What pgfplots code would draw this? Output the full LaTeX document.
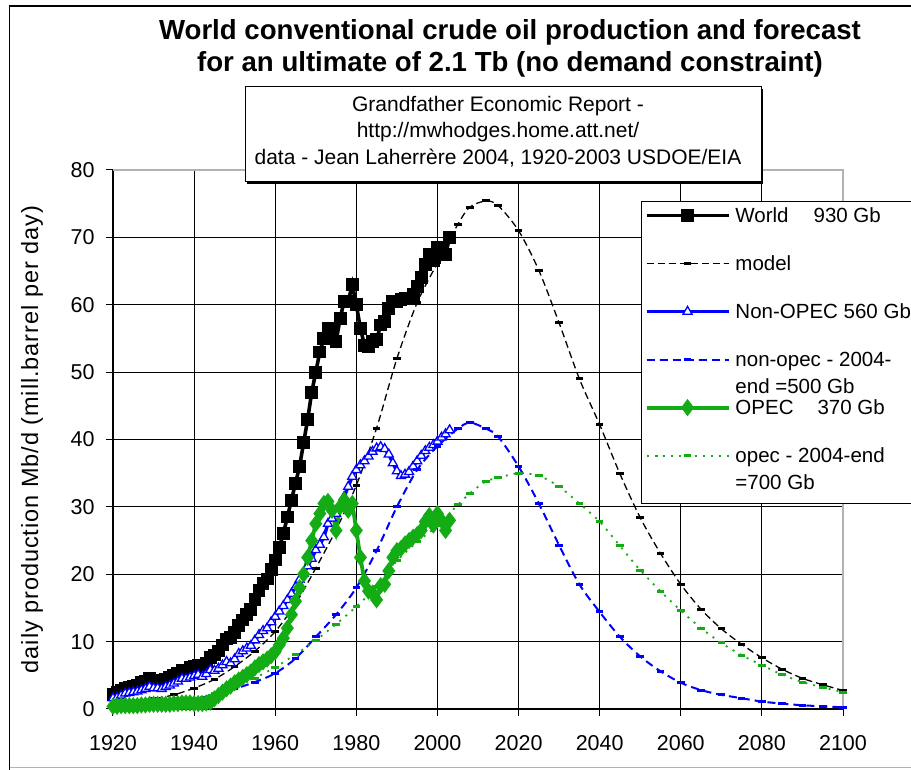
\documentclass[border=0pt]{standalone}
\usepackage{pgfplots}
\usepackage{pgfplotstable}
\pgfplotsset{compat=1.18}
\usepackage{fontspec}
\setmainfont{Liberation Sans}

\definecolor{oilblue}{RGB}{0,0,255}
\definecolor{oilgreen}{RGB}{20,172,20}

% historical production 1920-2003, Mb/d
\pgfplotstableread{
year world nonopec opec
1920 2.2 1.6 0.4
1921 2.4 1.7 0.4
1922 2.7 2.0 0.5
1923 3.1 2.3 0.5
1924 3.2 2.4 0.5
1925 3.4 2.5 0.5
1926 3.5 2.6 0.5
1927 3.9 2.8 0.6
1928 4.1 3.0 0.6
1929 4.5 3.3 0.7
1930 4.3 3.1 0.7
1931 4.3 3.1 0.7
1932 4.1 3.0 0.7
1933 4.4 3.3 0.7
1934 4.7 3.5 0.7
1935 5.0 3.8 0.8
1936 5.3 4.1 0.8
1937 5.8 4.5 0.9
1938 5.8 4.5 0.9
1939 6.1 4.7 0.9
1940 6.3 4.9 0.8
1941 6.5 5.1 0.8
1942 6.3 4.8 0.8
1943 6.7 5.2 0.9
1944 7.6 5.8 1.0
1945 8.0 5.7 1.5
1946 8.6 6.0 2.0
1947 9.5 6.5 2.5
1948 10.4 7.0 3.0
1949 10.6 6.8 3.4
1950 11.4 7.4 3.9
1951 12.4 8.2 4.3
1952 13.2 8.6 4.7
1953 14.0 9.0 5.1
1954 14.8 9.4 5.5
1955 16.3 10.2 6.1
1956 17.6 11.0 6.6
1957 18.6 11.6 7.0
1958 19.3 12.0 7.4
1959 20.7 12.9 7.9
1960 22.1 13.7 8.5
1961 24.0 14.5 9.5
1962 26.0 15.3 10.5
1963 28.5 16.2 12.0
1964 31.0 17.1 14.0
1965 33.5 18.1 16.0
1966 36.0 19.2 18.0
1967 39.5 20.1 20.0
1968 43.0 21.2 22.5
1969 47.0 22.3 25.0
1970 50.0 23.6 27.5
1971 53.0 24.4 29.0
1972 55.0 25.5 30.5
1973 56.5 27.5 30.8
1974 56.0 28.3 29.5
1975 54.5 29.0 26.5
1976 58.0 30.0 30.0
1977 60.5 31.5 31.0
1978 60.5 33.0 29.5
1979 63.0 34.5 30.5
1980 60.0 35.5 26.5
1981 56.5 36.2 22.5
1982 54.0 36.8 19.0
1983 53.8 37.5 17.5
1984 54.5 38.2 17.2
1985 54.8 38.7 16.2
1986 57.0 38.9 18.3
1987 57.5 38.6 18.5
1988 59.5 37.8 20.5
1989 60.5 36.5 22.5
1990 60.5 35.3 23.5
1991 60.8 34.6 23.8
1992 61.0 34.8 24.5
1993 61.0 35.2 25.0
1994 61.5 36.0 25.5
1995 62.7 36.8 25.9
1996 64.0 37.6 26.5
1997 66.0 38.3 27.8
1998 67.5 38.8 28.7
1999 66.5 39.2 27.3
2000 68.5 39.7 29.0
2001 68.3 40.3 28.0
2002 67.5 40.8 26.5
2003 70.0 41.4 28.0
}\histdata

% model curves 1920-2100 (total = non-OPEC + OPEC), Mb/d
\pgfplotstableread{
year total nonopec opec
1920 0.5 0.3 0.2
1925 0.9 0.5 0.4
1930 1.5 0.8 0.7
1935 2.1 1.1 1.0
1940 3.1 1.5 1.6
1945 4.4 2.1 2.3
1950 6.3 3.0 3.3
1955 8.6 4.0 4.6
1960 11.5 5.3 6.2
1965 15.6 7.5 8.1
1970 20.9 10.7 10.2
1975 26.6 14.0 12.6
1980 33.2 18.0 15.2
1985 41.7 23.5 18.2
1990 52.0 30.0 22.0
1995 60.3 35.5 24.8
2000 66.2 39.0 27.2
2005 71.9 41.6 30.3
2008 74.5 42.5 32.0
2012 75.4 41.6 33.8
2015 74.7 40.4 34.3
2020 71.0 36.0 35.0
2025 65.1 30.5 34.6
2030 57.3 24.3 33.0
2035 49.0 18.5 30.5
2040 42.2 14.4 27.8
2045 34.9 10.7 24.2
2050 28.4 7.8 20.6
2055 23.1 5.6 17.5
2060 18.5 3.9 14.6
2065 14.8 2.8 12.0
2070 11.9 2.1 9.8
2075 9.6 1.6 8.0
2080 7.6 1.1 6.5
2085 5.9 0.8 5.1
2090 4.55 0.55 4.0
2095 3.6 0.4 3.2
2100 2.75 0.25 2.5
}\modeldata

\newcommand{\lstrut}{\rule[-5pt]{0pt}{20pt}}
\newcommand{\twolines}[2]{\raisebox{0pt}[0pt][0pt]{\begin{tabular}[t]{@{}l@{}}#1\\#2\end{tabular}}}
\newcommand{\twolineslast}[2]{\raisebox{0pt}[0pt]{\begin{tabular}[t]{@{}l@{}}#1\\#2\end{tabular}}}

\begin{document}
\begin{tikzpicture}[x=1pt,y=1pt]
\useasboundingbox (0pt,0pt) rectangle (911pt,770pt);
\fill[white] (0pt,0pt) rectangle (911pt,770pt);
% chart area frame
\draw[line width=1.3pt] (9.5pt,-2pt) -- (9.5pt,764pt) -- (915pt,764pt);
\draw[gray!60, line width=1pt] (9.5pt,2.5pt) -- (915pt,2.5pt);

\begin{axis}[
  at={(113pt,61pt)}, anchor=south west,
  scale only axis, width=730pt, height=539pt,
  xmin=1920, xmax=2100, ymin=0, ymax=80,
  xtick={1920,1940,...,2100}, ytick={0,10,...,80},
  axis lines*=left, axis line style={-, line width=1.3pt},
  grid=major, major grid style={black, line width=1pt},
  tick align=outside, major tick length=7pt,
  tick style={black, line width=1pt},
  /pgf/number format/assume math mode=true,
  /pgf/number format/set thousands separator={},
  tick label style={font=\fontsize{21.5}{24}\selectfont},
  xticklabel style={anchor=north, yshift=-16pt},
  yticklabel style={anchor=east, xshift=-8pt},
  ylabel={daily production Mb/d (mill.barrel per day)},
  ylabel style={at={(axis description cs:-0.111,0.5)}, anchor=center,
    font=\fontsize{23.5}{26}\selectfont\addfontfeature{LetterSpace=4}},
  clip=false,
  legend style={
    at={(0.7233,0.9425)}, anchor=north west,
    draw=black, line width=1.3pt, fill=white,
    inner xsep=3pt, inner ysep=5pt,
    row sep=26pt, column sep=4pt,
    font=\fontsize{20.5}{27}\selectfont,
    cells={anchor=base west},
    nodes={inner sep=1pt, text depth=},
  },
  legend image code/.code={
    \draw[mark repeat=2, mark phase=2, #1]
      plot coordinates {(0pt,7pt) (41pt,7pt) (82pt,7pt)};
  },
]
% plot area border on top and right
\draw[gray!60, line width=1.2pt] (rel axis cs:0,1) -- (rel axis cs:1,1) -- (rel axis cs:1,0);

\addplot[black, line width=3.6pt, mark=square*, mark size=4.6pt, mark options={solid}]
  table[x=year, y=world] {\histdata};
\addlegendentry{\lstrut World\hspace{25pt}930 Gb}

\addplot[black, line width=1.3pt, dash pattern=on 7pt off 4pt, smooth,
  mark=-, mark size=3.8pt, mark options={solid, line width=3pt}]
  table[x=year, y=total] {\modeldata};
\addlegendentry{\lstrut model}

\addplot[oilblue, line width=3.4pt, mark=triangle*, mark size=5.2pt,
  mark options={solid, fill=white, line width=1.3pt}]
  table[x=year, y=nonopec] {\histdata};
\addlegendentry{\lstrut Non-OPEC 560 Gb}

\addplot[oilblue, line width=2pt, dash pattern=on 8pt off 5pt, smooth,
  mark=-, mark size=3.8pt, mark options={solid, line width=3pt}]
  table[x=year, y=nonopec] {\modeldata};
\addlegendentry{\lstrut\twolines{non-opec - 2004-}{end =500 Gb}}

\addplot[oilgreen, line width=3.8pt, mark=diamond*, mark size=5.5pt, mark options={solid}]
  table[x=year, y=opec] {\histdata};
\addlegendentry{\lstrut OPEC\hspace{24pt}370 Gb}

\addplot[oilgreen, line width=1.8pt, dash pattern=on 2pt off 6pt, smooth,
  mark=-, mark size=3.8pt, mark options={solid, line width=3pt}]
  table[x=year, y=opec] {\modeldata};
\addlegendentry{\lstrut\twolineslast{opec - 2004-end}{=700 Gb}}
\end{axis}

% title
\node[font=\fontsize{27.6}{32}\selectfont\bfseries, anchor=base] at (510pt,730pt)
  {World conventional crude oil production and forecast};
\node[font=\fontsize{27.6}{32}\selectfont\bfseries, anchor=base] at (510pt,698pt)
  {for an ultimate of 2.1 Tb (no demand constraint)};

% source box
\fill[black] (247pt,586pt) rectangle (763pt,681pt);
\filldraw[fill=white, draw=black, line width=1pt] (245pt,588pt) rectangle (761pt,683pt);
\node[font=\fontsize{21}{26}\selectfont, anchor=base] at (498pt,658.3pt) {Grandfather Economic Report -};
\node[font=\fontsize{21}{26}\selectfont, anchor=base] at (498pt,632pt) {http://mwhodges.home.att.net/};
\node[font=\fontsize{21}{26}\selectfont, anchor=base] at (498pt,605pt) {data - Jean Laherrère 2004, 1920-2003 USDOE/EIA};
\end{tikzpicture}
\end{document}
